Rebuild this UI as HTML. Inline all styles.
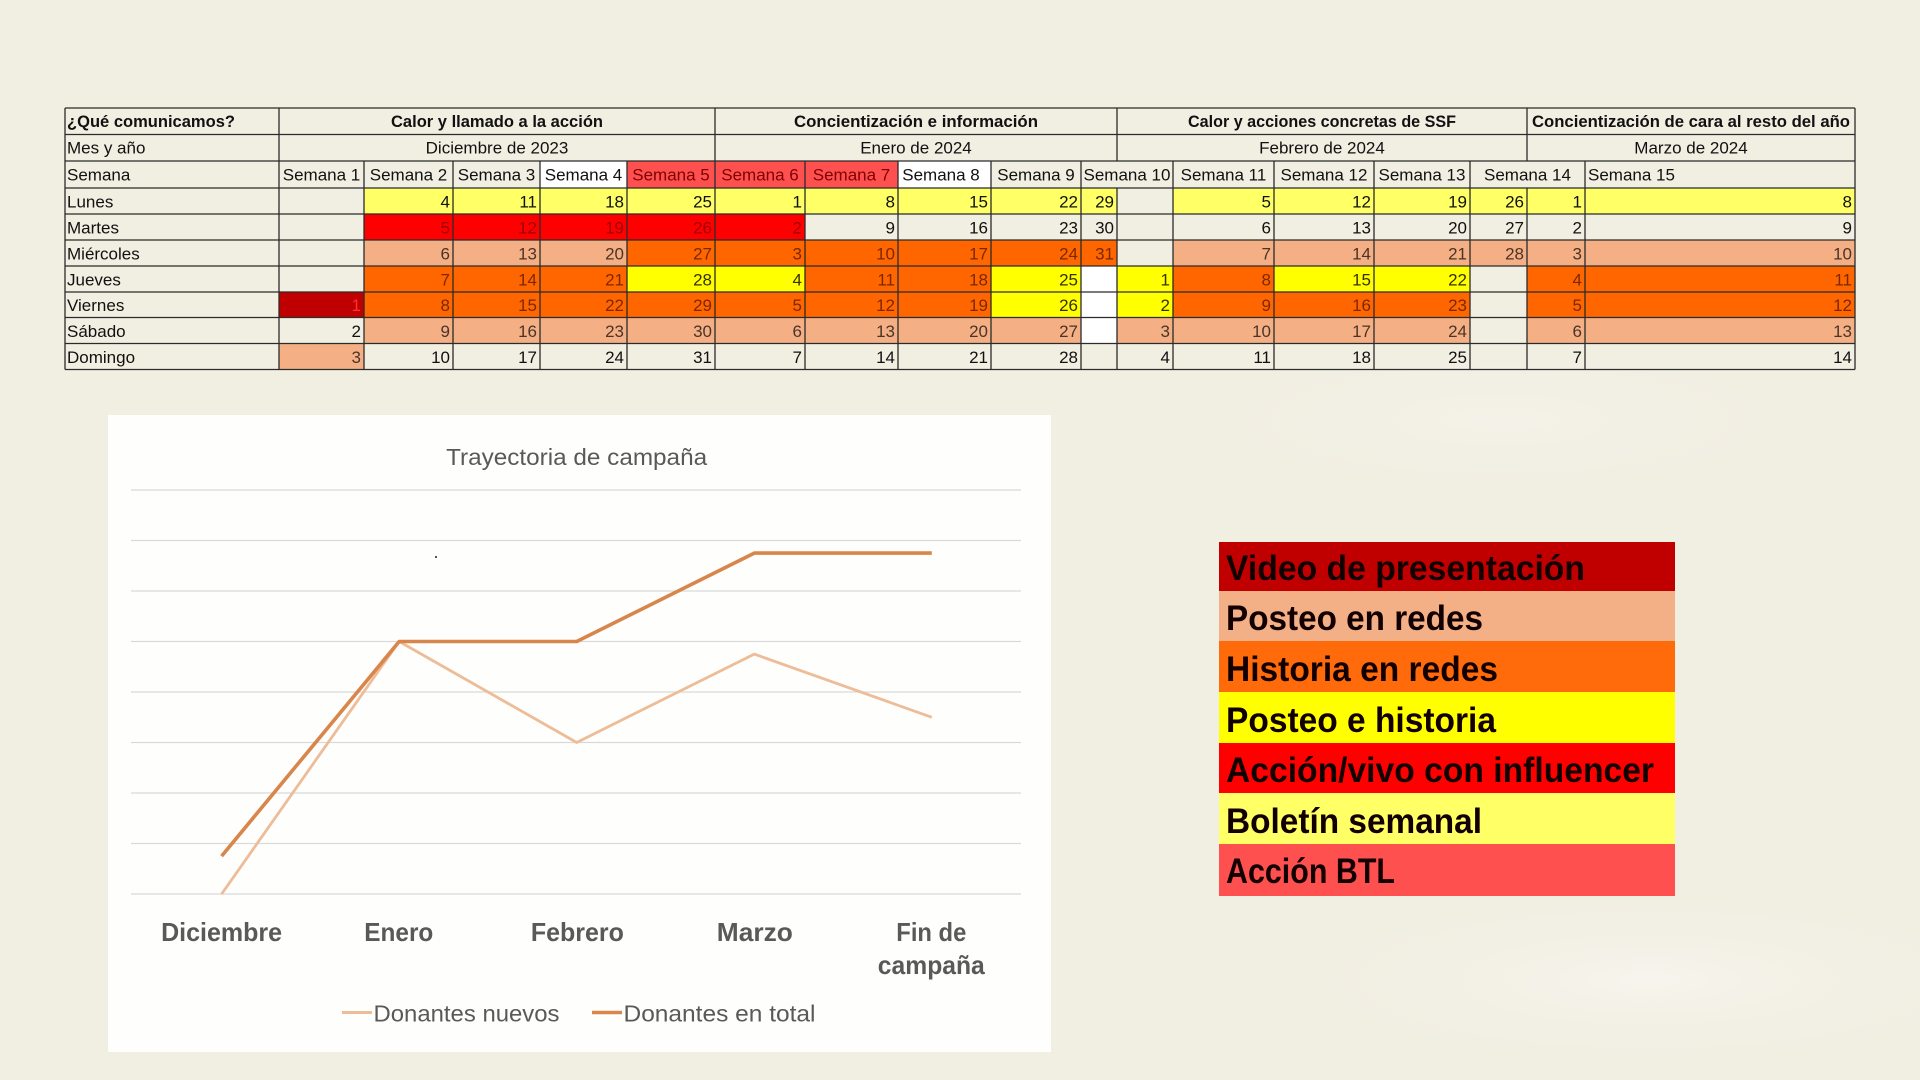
<!DOCTYPE html>
<html lang="es">
<head>
<meta charset="utf-8">
<title>Calendario de campaña</title>
<style>
  html,body{margin:0;padding:0;background:#F1EEE2;width:1920px;height:1080px;overflow:hidden;}
  body{position:relative;}
  svg{display:block;position:absolute;left:0;top:0;}
  .t{font-family:"Liberation Sans",Arial,sans-serif;font-size:17px;fill:#111;}
  .b{font-weight:bold;font-size:16.5px;}
  .e{text-anchor:end;}
  .m{text-anchor:middle;}
  .nr{fill:#9C0006;}
  .no{fill:#7A2800;}
  .ns{fill:#4A3428;}
  .ny{fill:#333300;}
  .nd{fill:#FF3030;}
  .hr{fill:#7F0000;}
  .lg{font-family:"Liberation Sans",Arial,sans-serif;font-size:35px;font-weight:bold;fill:#120000;}
  .ch{font-family:"Liberation Sans",Arial,sans-serif;fill:#595959;}
</style>
</head>
<body>
<svg width="1920" height="1080" viewBox="0 0 1920 1080" xmlns="http://www.w3.org/2000/svg">
  <defs>
    <radialGradient id="g1" cx="0.5" cy="0.5" r="0.5">
      <stop offset="0" stop-color="#F7F5EE" stop-opacity="0.9"/>
      <stop offset="1" stop-color="#F1EEE2" stop-opacity="0"/>
    </radialGradient>
  </defs>
  <rect x="0" y="0" width="1920" height="1080" fill="#F1EEE2"/>
  <ellipse cx="1650" cy="980" rx="420" ry="100" fill="url(#g1)"/>
  <ellipse cx="1500" cy="420" rx="380" ry="90" fill="url(#g1)" opacity="0.6"/>

  <!-- TABLE FILLS -->
  <rect x="540" y="161" width="87" height="27" fill="#FFFFFF"/>
  <rect x="627" y="161" width="278" height="27" fill="#FF5050"/>
  <rect x="898" y="161" width="93" height="27" fill="#FFFFFF"/>
  <rect x="364" y="188" width="753" height="26" fill="#FFFF66"/>
  <rect x="1173" y="188" width="682" height="26" fill="#FFFF66"/>
  <rect x="364" y="214" width="441" height="26" fill="#FF0000"/>
  <rect x="364" y="240" width="263" height="26" fill="#F4B084"/>
  <rect x="627" y="240" width="490" height="26" fill="#FF6600"/>
  <rect x="1173" y="240" width="682" height="26" fill="#F4B084"/>
  <rect x="364" y="266" width="263" height="26" fill="#FF6600"/>
  <rect x="627" y="266" width="178" height="26" fill="#FFFF00"/>
  <rect x="805" y="266" width="186" height="26" fill="#FF6600"/>
  <rect x="991" y="266" width="90" height="26" fill="#FFFF00"/>
  <rect x="1081" y="266" width="36" height="26" fill="#FFFFFF"/>
  <rect x="1117" y="266" width="56" height="26" fill="#FFFF00"/>
  <rect x="1173" y="266" width="101" height="26" fill="#FF6600"/>
  <rect x="1274" y="266" width="196" height="26" fill="#FFFF00"/>
  <rect x="1527" y="266" width="328" height="26" fill="#FF6600"/>
  <rect x="279" y="292" width="85" height="25.5" fill="#C00000"/>
  <rect x="364" y="292" width="627" height="25.5" fill="#FF6600"/>
  <rect x="991" y="292" width="90" height="25.5" fill="#FFFF00"/>
  <rect x="1081" y="292" width="36" height="25.5" fill="#FFFFFF"/>
  <rect x="1117" y="292" width="56" height="25.5" fill="#FFFF00"/>
  <rect x="1173" y="292" width="297" height="25.5" fill="#FF6600"/>
  <rect x="1527" y="292" width="328" height="25.5" fill="#FF6600"/>
  <rect x="364" y="317.5" width="717" height="26" fill="#F4B084"/>
  <rect x="1081" y="317.5" width="36" height="26" fill="#FFFFFF"/>
  <rect x="1117" y="317.5" width="353" height="26" fill="#F4B084"/>
  <rect x="1527" y="317.5" width="328" height="26" fill="#F4B084"/>
  <rect x="279" y="343.5" width="85" height="26" fill="#F4B084"/>

  <!-- TABLE BORDERS -->
  <path fill="none" stroke="#2b2b2b" stroke-width="1.3" d="
    M65 108H1855 M65 134.5H1855 M65 161H1855 M65 188H1855 M65 214H1855
    M65 240H1855 M65 266H1855 M65 292H1855 M65 317.5H1855 M65 343.5H1855 M65 369.5H1855
    M65 108V369.5 M279 108V369.5 M1855 108V369.5 M715 108V369.5
    M1117 108V161 M1117 188V369.5 M1527 108V161 M1527 188V369.5
    M364 161V369.5 M453 161V369.5 M540 161V369.5 M627 161V369.5
    M805 161V369.5 M898 161V369.5 M991 161V369.5 M1081 161V369.5
    M1173 161V369.5 M1274 161V369.5 M1374 161V369.5 M1470 161V369.5 M1585 161V369.5"/>

  <!-- TABLE TEXT -->
  <text class="t b" x="67" y="127" textLength="168" lengthAdjust="spacingAndGlyphs">¿Qué comunicamos?</text>
  <text class="t b m" x="497" y="127" textLength="212" lengthAdjust="spacingAndGlyphs">Calor y llamado a la acción</text>
  <text class="t b m" x="916" y="127" textLength="244" lengthAdjust="spacingAndGlyphs">Concientización e información</text>
  <text class="t b m" x="1322" y="127" textLength="268" lengthAdjust="spacingAndGlyphs">Calor y acciones concretas de SSF</text>
  <text class="t b m" x="1691" y="127" textLength="318" lengthAdjust="spacingAndGlyphs">Concientización de cara al resto del año</text>
  <text class="t" x="67" y="153.5">Mes y año</text>
  <text class="t m" x="497" y="153.5">Diciembre de 2023</text>
  <text class="t m" x="916" y="153.5">Enero de 2024</text>
  <text class="t m" x="1322" y="153.5">Febrero de 2024</text>
  <text class="t m" x="1691" y="153.5">Marzo de 2024</text>
  <text class="t" x="67" y="180.5">Semana</text>
  <text class="t m" x="321.5" y="180.5">Semana 1</text>
  <text class="t m" x="408.5" y="180.5">Semana 2</text>
  <text class="t m" x="496.5" y="180.5">Semana 3</text>
  <text class="t m" x="583.5" y="180.5">Semana 4</text>
  <text class="t m hr" x="671" y="180.5">Semana 5</text>
  <text class="t m hr" x="760" y="180.5">Semana 6</text>
  <text class="t m hr" x="851.5" y="180.5">Semana 7</text>
  <text class="t m" x="941" y="180.5">Semana 8</text>
  <text class="t m" x="1036" y="180.5">Semana 9</text>
  <text class="t m" x="1127" y="180.5">Semana 10</text>
  <text class="t m" x="1223.5" y="180.5">Semana 11</text>
  <text class="t m" x="1324" y="180.5">Semana 12</text>
  <text class="t m" x="1422" y="180.5">Semana 13</text>
  <text class="t m" x="1527.5" y="180.5">Semana 14</text>
  <text class="t" x="1588" y="180.5">Semana 15</text>

  <text class="t" x="67" y="207.5">Lunes</text>
  <text class="t e" x="450" y="207.5">4</text>
  <text class="t e" x="537" y="207.5">11</text>
  <text class="t e" x="624" y="207.5">18</text>
  <text class="t e" x="712" y="207.5">25</text>
  <text class="t e" x="802" y="207.5">1</text>
  <text class="t e" x="895" y="207.5">8</text>
  <text class="t e" x="988" y="207.5">15</text>
  <text class="t e" x="1078" y="207.5">22</text>
  <text class="t e" x="1114" y="207.5">29</text>
  <text class="t e" x="1271" y="207.5">5</text>
  <text class="t e" x="1371" y="207.5">12</text>
  <text class="t e" x="1467" y="207.5">19</text>
  <text class="t e" x="1524" y="207.5">26</text>
  <text class="t e" x="1582" y="207.5">1</text>
  <text class="t e" x="1852" y="207.5">8</text>

  <text class="t" x="67" y="233.5">Martes</text>
  <text class="t e nr" x="450" y="233.5">5</text>
  <text class="t e nr" x="537" y="233.5">12</text>
  <text class="t e nr" x="624" y="233.5">19</text>
  <text class="t e nr" x="712" y="233.5">26</text>
  <text class="t e nr" x="802" y="233.5">2</text>
  <text class="t e" x="895" y="233.5">9</text>
  <text class="t e" x="988" y="233.5">16</text>
  <text class="t e" x="1078" y="233.5">23</text>
  <text class="t e" x="1114" y="233.5">30</text>
  <text class="t e" x="1271" y="233.5">6</text>
  <text class="t e" x="1371" y="233.5">13</text>
  <text class="t e" x="1467" y="233.5">20</text>
  <text class="t e" x="1524" y="233.5">27</text>
  <text class="t e" x="1582" y="233.5">2</text>
  <text class="t e" x="1852" y="233.5">9</text>

  <text class="t" x="67" y="259.5">Miércoles</text>
  <text class="t e ns" x="450" y="259.5">6</text>
  <text class="t e ns" x="537" y="259.5">13</text>
  <text class="t e ns" x="624" y="259.5">20</text>
  <text class="t e no" x="712" y="259.5">27</text>
  <text class="t e no" x="802" y="259.5">3</text>
  <text class="t e no" x="895" y="259.5">10</text>
  <text class="t e no" x="988" y="259.5">17</text>
  <text class="t e no" x="1078" y="259.5">24</text>
  <text class="t e no" x="1114" y="259.5">31</text>
  <text class="t e ns" x="1271" y="259.5">7</text>
  <text class="t e ns" x="1371" y="259.5">14</text>
  <text class="t e ns" x="1467" y="259.5">21</text>
  <text class="t e ns" x="1524" y="259.5">28</text>
  <text class="t e ns" x="1582" y="259.5">3</text>
  <text class="t e ns" x="1852" y="259.5">10</text>

  <text class="t" x="67" y="285.5">Jueves</text>
  <text class="t e no" x="450" y="285.5">7</text>
  <text class="t e no" x="537" y="285.5">14</text>
  <text class="t e no" x="624" y="285.5">21</text>
  <text class="t e ny" x="712" y="285.5">28</text>
  <text class="t e ny" x="802" y="285.5">4</text>
  <text class="t e no" x="895" y="285.5">11</text>
  <text class="t e no" x="988" y="285.5">18</text>
  <text class="t e ny" x="1078" y="285.5">25</text>
  <text class="t e ny" x="1170" y="285.5">1</text>
  <text class="t e no" x="1271" y="285.5">8</text>
  <text class="t e ny" x="1371" y="285.5">15</text>
  <text class="t e ny" x="1467" y="285.5">22</text>
  <text class="t e no" x="1582" y="285.5">4</text>
  <text class="t e no" x="1852" y="285.5">11</text>

  <text class="t" x="67" y="311">Viernes</text>
  <text class="t e nd" x="361" y="311">1</text>
  <text class="t e no" x="450" y="311">8</text>
  <text class="t e no" x="537" y="311">15</text>
  <text class="t e no" x="624" y="311">22</text>
  <text class="t e no" x="712" y="311">29</text>
  <text class="t e no" x="802" y="311">5</text>
  <text class="t e no" x="895" y="311">12</text>
  <text class="t e no" x="988" y="311">19</text>
  <text class="t e ny" x="1078" y="311">26</text>
  <text class="t e ny" x="1170" y="311">2</text>
  <text class="t e no" x="1271" y="311">9</text>
  <text class="t e no" x="1371" y="311">16</text>
  <text class="t e no" x="1467" y="311">23</text>
  <text class="t e no" x="1582" y="311">5</text>
  <text class="t e no" x="1852" y="311">12</text>

  <text class="t" x="67" y="337">Sábado</text>
  <text class="t e" x="361" y="337">2</text>
  <text class="t e ns" x="450" y="337">9</text>
  <text class="t e ns" x="537" y="337">16</text>
  <text class="t e ns" x="624" y="337">23</text>
  <text class="t e ns" x="712" y="337">30</text>
  <text class="t e ns" x="802" y="337">6</text>
  <text class="t e ns" x="895" y="337">13</text>
  <text class="t e ns" x="988" y="337">20</text>
  <text class="t e ns" x="1078" y="337">27</text>
  <text class="t e ns" x="1170" y="337">3</text>
  <text class="t e ns" x="1271" y="337">10</text>
  <text class="t e ns" x="1371" y="337">17</text>
  <text class="t e ns" x="1467" y="337">24</text>
  <text class="t e ns" x="1582" y="337">6</text>
  <text class="t e ns" x="1852" y="337">13</text>

  <text class="t" x="67" y="363">Domingo</text>
  <text class="t e ns" x="361" y="363">3</text>
  <text class="t e" x="450" y="363">10</text>
  <text class="t e" x="537" y="363">17</text>
  <text class="t e" x="624" y="363">24</text>
  <text class="t e" x="712" y="363">31</text>
  <text class="t e" x="802" y="363">7</text>
  <text class="t e" x="895" y="363">14</text>
  <text class="t e" x="988" y="363">21</text>
  <text class="t e" x="1078" y="363">28</text>
  <text class="t e" x="1170" y="363">4</text>
  <text class="t e" x="1271" y="363">11</text>
  <text class="t e" x="1371" y="363">18</text>
  <text class="t e" x="1467" y="363">25</text>
  <text class="t e" x="1582" y="363">7</text>
  <text class="t e" x="1852" y="363">14</text>

  <!-- CHART -->
  <rect x="108" y="415" width="943" height="637" fill="#FEFEFC"/>
  <text class="ch" x="576.6" y="465" font-size="23" text-anchor="middle" textLength="261" lengthAdjust="spacingAndGlyphs">Trayectoria de campaña</text>
  <g stroke="#D9D9D9" stroke-width="1.3">
    <line x1="131" y1="490" x2="1021" y2="490"/>
    <line x1="131" y1="540.5" x2="1021" y2="540.5"/>
    <line x1="131" y1="591" x2="1021" y2="591"/>
    <line x1="131" y1="641.5" x2="1021" y2="641.5"/>
    <line x1="131" y1="692" x2="1021" y2="692"/>
    <line x1="131" y1="742.5" x2="1021" y2="742.5"/>
    <line x1="131" y1="793" x2="1021" y2="793"/>
    <line x1="131" y1="843.5" x2="1021" y2="843.5"/>
    <line x1="131" y1="894" x2="1021" y2="894"/>
  </g>
  <rect x="435" y="556" width="2" height="2" fill="#555"/>
  <polyline points="221.6,894 399.2,641.5 576.7,742.5 754.3,654.1 931.8,717.3" fill="none" stroke="#EDBC98" stroke-width="2.8" stroke-linejoin="round"/>
  <polyline points="221.6,856.1 399.2,641.5 576.7,641.5 754.3,553.1 931.8,553.1" fill="none" stroke="#D8864B" stroke-width="3.6" stroke-linejoin="round"/>

  <g class="ch" font-size="26" font-weight="bold" text-anchor="middle">
    <text x="221.6" y="941" textLength="121" lengthAdjust="spacingAndGlyphs">Diciembre</text>
    <text x="398.8" y="941" textLength="69" lengthAdjust="spacingAndGlyphs">Enero</text>
    <text x="577.4" y="941" textLength="93" lengthAdjust="spacingAndGlyphs">Febrero</text>
    <text x="754.8" y="941" textLength="76" lengthAdjust="spacingAndGlyphs">Marzo</text>
    <text x="931.3" y="941" textLength="70" lengthAdjust="spacingAndGlyphs">Fin de</text>
    <text x="931.3" y="974" textLength="107" lengthAdjust="spacingAndGlyphs">campaña</text>
  </g>

  <line x1="342" y1="1012.5" x2="372" y2="1012.5" stroke="#EDBC98" stroke-width="3"/>
  <text class="ch" x="373.5" y="1021.5" font-size="23" textLength="186" lengthAdjust="spacingAndGlyphs">Donantes nuevos</text>
  <line x1="592" y1="1012.5" x2="622" y2="1012.5" stroke="#D8864B" stroke-width="3.6"/>
  <text class="ch" x="623.5" y="1021.5" font-size="23" textLength="192" lengthAdjust="spacingAndGlyphs">Donantes en total</text>

  <!-- COLOR LEGEND -->
  <rect x="1219" y="542" width="456" height="49" fill="#C00000"/>
  <rect x="1219" y="591" width="456" height="50" fill="#F3AF86"/>
  <rect x="1219" y="641" width="456" height="51" fill="#FF6A0A"/>
  <rect x="1219" y="692" width="456" height="51" fill="#FFFF00"/>
  <rect x="1219" y="743" width="456" height="50" fill="#FF0000"/>
  <rect x="1219" y="793" width="456" height="51" fill="#FFFF66"/>
  <rect x="1219" y="844" width="456" height="52" fill="#FF5050"/>
  <text class="lg" x="1226" y="580" textLength="359" lengthAdjust="spacingAndGlyphs">Video de presentación</text>
  <text class="lg" x="1226" y="630" textLength="257" lengthAdjust="spacingAndGlyphs">Posteo en redes</text>
  <text class="lg" x="1226" y="681" textLength="272" lengthAdjust="spacingAndGlyphs">Historia en redes</text>
  <text class="lg" x="1226" y="732" textLength="270" lengthAdjust="spacingAndGlyphs">Posteo e historia</text>
  <text class="lg" x="1226" y="782" textLength="428" lengthAdjust="spacingAndGlyphs">Acción/vivo con influencer</text>
  <text class="lg" x="1226" y="833" textLength="256" lengthAdjust="spacingAndGlyphs">Boletín semanal</text>
  <text class="lg" x="1226" y="883" textLength="169" lengthAdjust="spacingAndGlyphs">Acción BTL</text>
</svg>
</body>
</html>
